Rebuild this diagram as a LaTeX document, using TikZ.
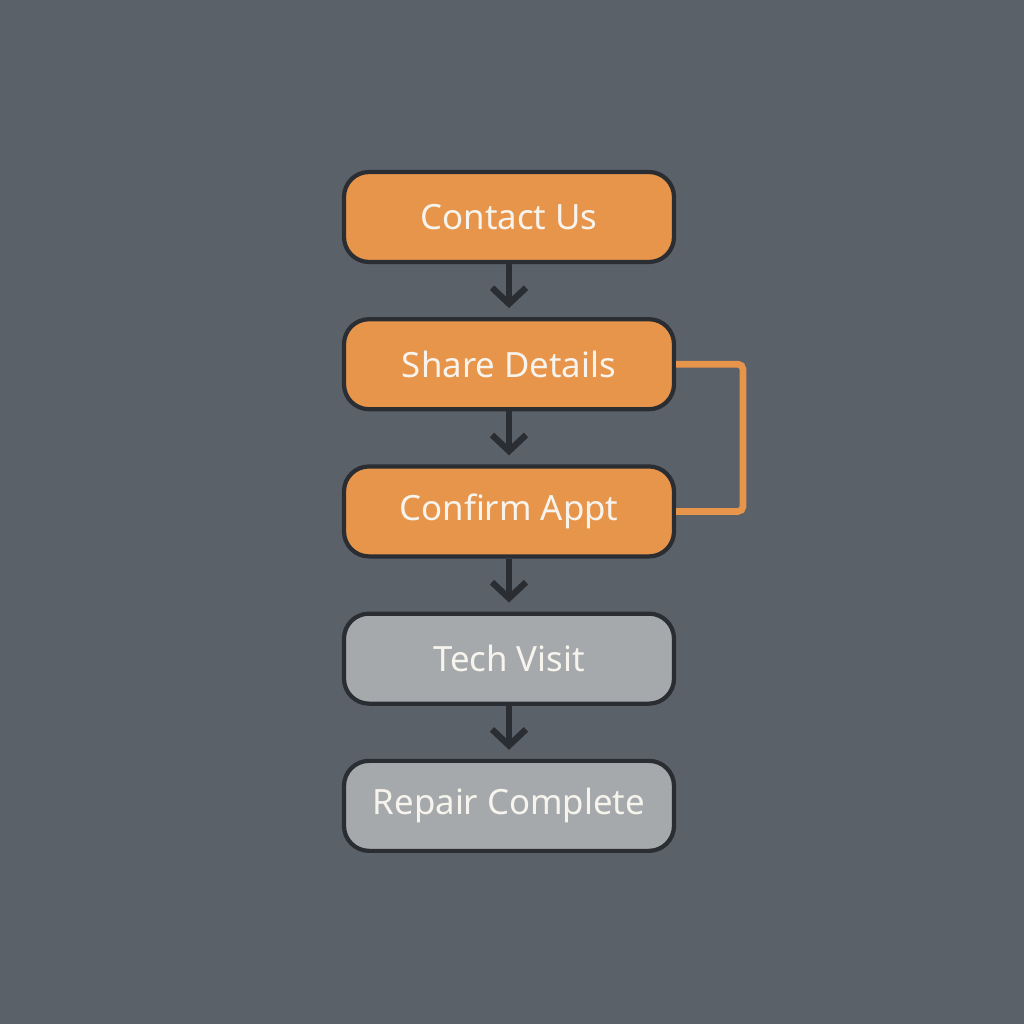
\documentclass[tikz,border=0pt]{standalone}
\usepackage{fontspec}
\setmainfont{Noto Sans}
\usetikzlibrary{positioning,arrows.meta}
\definecolor{bgcol}{HTML}{5B6169}
\definecolor{orangefill}{HTML}{E8954C}
\definecolor{grayfill}{HTML}{A6A9AC}
\definecolor{edgecol}{HTML}{2A2E33}
\definecolor{textcol}{HTML}{F7F4EE}
\tikzset{
  stepbox/.style={rectangle,rounded corners=0.25cm,draw=edgecol,line width=1.2pt,
    minimum width=3.3cm,minimum height=0.9cm,text=textcol,font=\fontsize{9.9}{12}\selectfont},
  active/.style={stepbox,fill=orangefill},
  pending/.style={stepbox,fill=grayfill},
  flow/.style={edgecol,line width=1.8pt,-{Straight Barb[length=1.6mm,width=3.4mm,line width=1.8pt]},shorten >=0.9mm},
  loopline/.style={orangefill,line width=1.9pt,rounded corners=0.5mm}
}
\begin{document}
\begin{tikzpicture}[node distance=0.53cm]
    \fill[bgcol] (0,0) rectangle (10.24,10.24);
    \useasboundingbox (0,0) rectangle (10.24,10.24);
    \node[active] (contact) at (5.09,8.07) {Contact Us};
    \node[active,below=of contact] (share) {Share Details};
    \node[active,below=of share] (confirm) {Confirm Appt};
    \node[pending,below=of confirm] (visit) {Tech Visit};
    \node[pending,below=of visit] (repair) {Repair Complete};
    \draw[flow] (contact) -- (share);
    \draw[flow] (share) -- (confirm);
    \draw[flow] (confirm) -- (visit);
    \draw[flow] (visit) -- (repair);
    \coordinate (loopx) at (7.43,0);
    \draw[loopline] (share.east) -- (share.east -| loopx) -- (confirm.east -| loopx) -- (confirm.east);
\end{tikzpicture}
\end{document}
